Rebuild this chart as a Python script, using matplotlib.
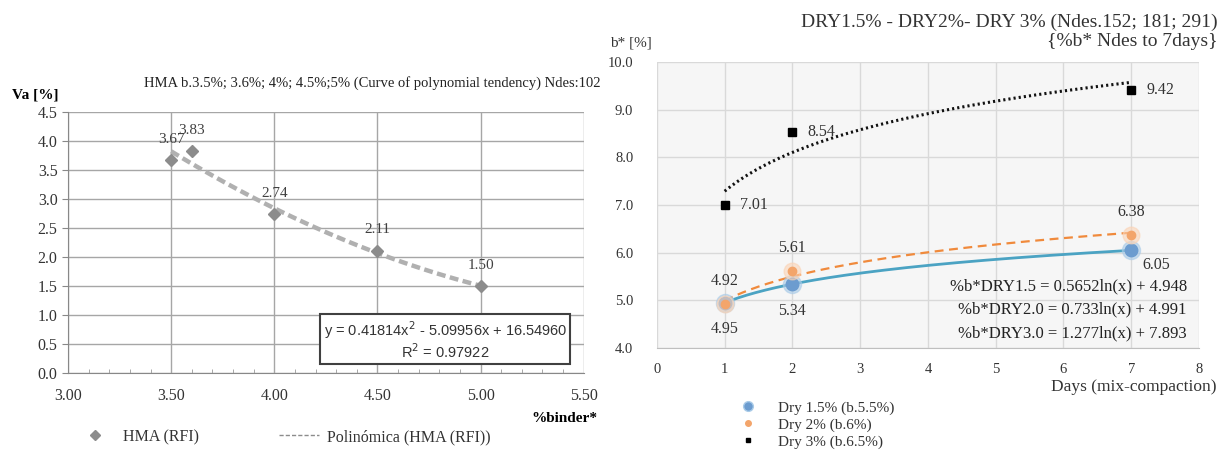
import matplotlib
matplotlib.use("Agg")
import matplotlib.pyplot as plt
from matplotlib.lines import Line2D
import numpy as np

plt.rcParams['font.family'] = ['Liberation Serif', 'DejaVu Serif']

# left chart: HMA air voids vs binder
binder = [3.5, 3.6, 4.0, 4.5, 5.0]
va = [3.67, 3.83, 2.74, 2.11, 1.50]
va_labels = ['3.67', '3.83', '2.74', '2.11', '1.50']
poly_coef = [0.41814, -5.09956, 16.54960]
poly_text = 'y = 0.41814x$^2$ - 5.09956x + 16.54960\nR$^2$ = 0.97922'

# right chart: b* vs days
days = [1, 2, 7]
dry15 = [4.95, 5.34, 6.05]
dry2 = [4.92, 5.61, 6.38]
dry3 = [7.01, 8.54, 9.42]
eq_texts = ['%b*DRY1.5 = 0.5652ln(x) + 4.948',
            '%b*DRY2.0 = 0.733ln(x) + 4.991',
            '%b*DRY3.0 = 1.277ln(x) + 7.893']
series_names = ['Dry 1.5% (b.5.5%)', 'Dry 2% (b.6%)', 'Dry 3% (b.6.5%)']

fig = plt.figure(figsize=(12.21, 4.5), dpi=100)

# ---------------- left
ax1 = fig.add_axes([0.0557, 0.171, 0.4223, 0.580])
ax1.set_xlim(3.0, 5.5)
ax1.set_ylim(0, 4.5)
ax1.set_xticks(np.arange(3.0, 5.51, 0.5))
ax1.set_yticks(np.arange(0, 4.51, 0.5))
ax1.set_xticklabels([f'{v:.2f}' for v in np.arange(3.0, 5.51, 0.5)])
ax1.set_yticklabels([f'{v:.1f}' for v in np.arange(0, 4.51, 0.5)])
ax1.set_xticks(np.arange(3.0, 5.5, 0.1), minor=True)
ax1.tick_params(axis='x', which='minor', direction='in', length=3, color='#999999')
ax1.tick_params(axis='x', which='major', length=0, labelsize=11.5, pad=11, labelcolor='#333333')
ax1.tick_params(axis='y', which='major', length=4, color='#888888', labelsize=11.5,
                labelcolor='#333333')
ax1.grid(True, color='#a6a6a6', lw=1.0)
ax1.set_axisbelow(True)
for s in ['top', 'right']:
    ax1.spines[s].set_visible(False)
ax1.spines['left'].set_color('#888888')
ax1.spines['bottom'].set_color('#888888')

xx = np.linspace(3.5, 5.0, 100)
ax1.plot(xx, np.polyval(poly_coef, xx), color='#b0b0b0', lw=3.2, ls=(0, (2, 1)), zorder=2)
ax1.plot(binder, va, ls='none', marker='D', ms=6.5, color='#8c8c8c', zorder=3)
for x, y, t in zip(binder, va, va_labels):
    ax1.text(x, y + 0.36, t, ha='center', va='center', fontsize=11, color='#404040')

ax1.text(4.83, 0.57, poly_text, ha='center', va='center', fontsize=10.5,
         family='Liberation Sans', color='#333333', linespacing=1.1,
         bbox=dict(boxstyle='square,pad=0.22', fc='white', ec='#404040', lw=1.5))

fig.text(0.118, 0.816, 'HMA b.3.5%; 3.6%; 4%; 4.5%;5% (Curve of polynomial tendency) Ndes:102',
         fontsize=10.5, color='#222222', va='center')
fig.text(0.0098, 0.789, 'Va [%]', fontsize=11, fontweight='bold', va='center')
fig.text(0.435, 0.071, '%binder*', fontsize=11, fontweight='bold', va='center')

h1 = [Line2D([], [], ls='none', marker='D', ms=5, color='#8c8c8c'),
      Line2D([], [], color='#8c8c8c', lw=1, ls=(0, (3, 1.5)))]
fig.legend(h1, ['HMA (RFI)', 'Polinómica (HMA (RFI))'], loc='center left',
           bbox_to_anchor=(0.050, 0.029), ncol=2, frameon=False, fontsize=11.5,
           columnspacing=5, handlelength=2.5, handletextpad=0.5, labelcolor='#333333')

# ---------------- right
ax2 = fig.add_axes([0.538, 0.2267, 0.444, 0.6353])
ax2.set_xlim(0, 8)
ax2.set_ylim(4, 10)
ax2.set_xticks(range(0, 9))
ax2.set_yticks(np.arange(4, 10.1, 1))
ax2.set_yticklabels([f'{v:.1f}' for v in np.arange(4, 10.1, 1)])
ax2.set_facecolor('#f6f6f6')
ax2.grid(True, color='#d9d9d9', lw=1.0)
ax2.set_axisbelow(True)
ax2.tick_params(length=0, labelsize=10.5, colors='#333333')
ax2.tick_params(axis='x', pad=11)
ax2.tick_params(axis='y', pad=17)
for s in ['top', 'right', 'left']:
    ax2.spines[s].set_visible(False)
ax2.spines['bottom'].set_color('#bfbfbf')

xd = np.linspace(1, 7, 200)
styles = [dict(color='#4ba3c3', lw=2.0, ls='-'),
          dict(color='#f08a3c', lw=1.6, ls=(0, (4, 2.5))),
          dict(color='#111111', lw=2.2, ls=(0, (0.7, 1.0)))]
for ys, st in zip([dry15, dry2, dry3], styles):
    a, b = np.polyfit(np.log(days), ys, 1)
    ax2.plot(xd, a * np.log(xd) + b, zorder=2, **st)

ax2.plot(days, dry15, ls='none', marker='o', ms=13, color='#a9cbe8', alpha=0.6, zorder=3)
ax2.plot(days, dry15, ls='none', marker='o', ms=9, color='#6c9ccf', zorder=3)
ax2.plot(days, dry2, ls='none', marker='o', ms=12, color='#fbd3b5', alpha=0.6, zorder=3)
ax2.plot(days, dry2, ls='none', marker='o', ms=6, color='#f3a56b', zorder=3)
ax2.plot(days, dry3, ls='none', marker='s', ms=5.5, color='black', zorder=4)

lbl = dict(fontsize=11.5, color='#333333', ha='center', va='center')
for x, y in zip(days, dry15):
    if x == 7:
        ax2.text(x + 0.37, y - 0.31, f'{y:.2f}', **lbl)
    else:
        ax2.text(x, y - 0.56, f'{y:.2f}', **lbl)
for x, y in zip(days, dry2):
    ax2.text(x, y + 0.48, f'{y:.2f}', **lbl)
for x, y in zip(days, dry3):
    ax2.text(x + 0.43, y, f'{y:.2f}', **lbl)

for i, t in enumerate(eq_texts):
    ax2.text(7.82, 5.30 - i * 0.5, t, ha='right', va='center', fontsize=12, color='#222222')

fig.text(0.997, 0.951, 'DRY1.5% - DRY2%- DRY 3% (Ndes.152; 181; 291)', ha='right',
         va='center', fontsize=14, color='#333333')
fig.text(0.997, 0.907, '{%b* Ndes to 7days}', ha='right', va='center', fontsize=14, color='#333333')
fig.text(0.500, 0.904, 'b* [%]', fontsize=11, va='center', color='#333333')
fig.text(0.996, 0.140, 'Days (mix-compaction)', ha='right', va='center', fontsize=12.5, color='#333333')

h2 = [Line2D([], [], ls='none', marker='o', ms=7, color='#6c9ccf', mec='#a9cbe8'),
      Line2D([], [], ls='none', marker='o', ms=4, color='#f3a56b'),
      Line2D([], [], ls='none', marker='s', ms=3.5, color='black')]
fig.legend(h2, series_names, loc='center left', bbox_to_anchor=(0.595, 0.056), ncol=1,
           frameon=False, fontsize=11, handlelength=1, handletextpad=1.5, labelspacing=0.2,
           labelcolor='#333333')

fig.savefig('out.png', dpi=100)
